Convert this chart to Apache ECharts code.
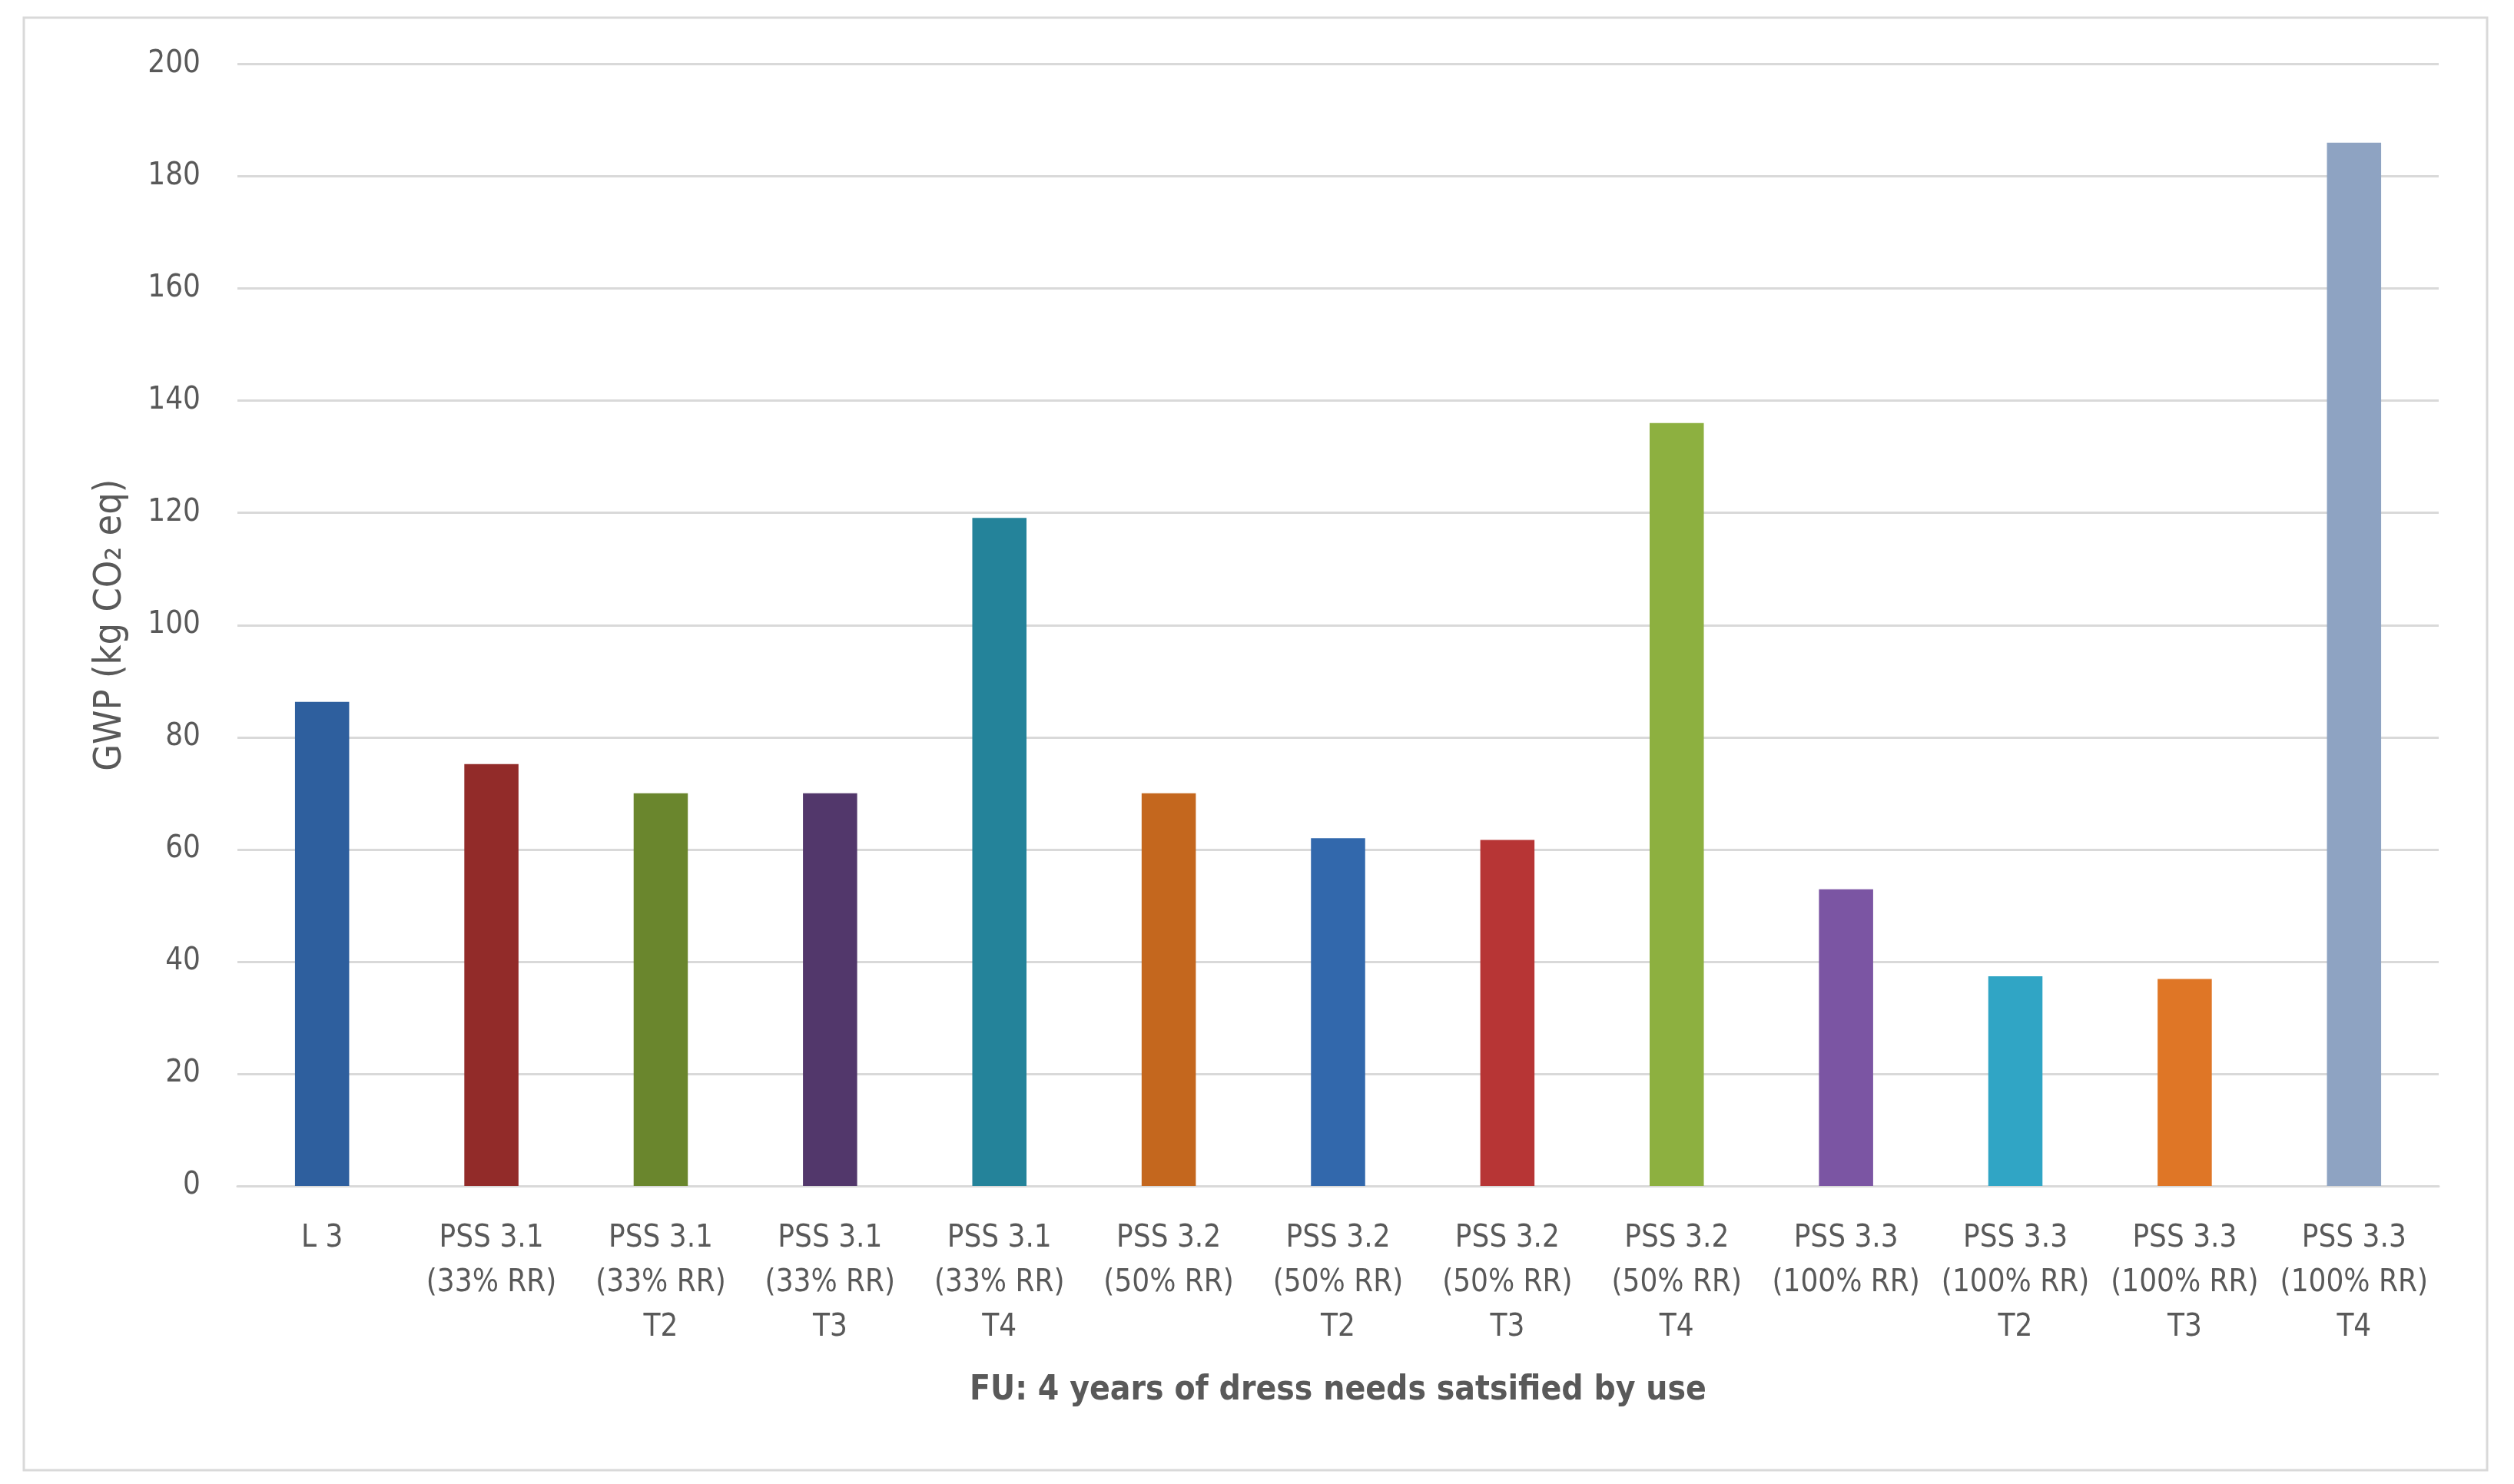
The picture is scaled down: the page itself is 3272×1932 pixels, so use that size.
<!DOCTYPE html>
<html>
<head>
<meta charset="utf-8">
<script src="https://cdn.jsdelivr.net/npm/echarts@6/dist/echarts.min.js"></script>
<style>
html,body{margin:0;padding:0;background:#fff;}
#chart{width:3272px;height:1932px;}
</style>
</head>
<body>
<div id="chart"></div>
<script>
const categories = [
  'L 3',
  'PSS 3.1\n(33% RR)',
  'PSS 3.1\n(33% RR)\nT2',
  'PSS 3.1\n(33% RR)\nT3',
  'PSS 3.1\n(33% RR)\nT4',
  'PSS 3.2\n(50% RR)',
  'PSS 3.2\n(50% RR)\nT2',
  'PSS 3.2\n(50% RR)\nT3',
  'PSS 3.2\n(50% RR)\nT4',
  'PSS 3.3\n(100% RR)',
  'PSS 3.3\n(100% RR)\nT2',
  'PSS 3.3\n(100% RR)\nT3',
  'PSS 3.3\n(100% RR)\nT4'
];
const gwpValues = [86.3, 75.2, 70.0, 70.0, 119.1, 70.0, 62.0, 61.7, 136.0, 52.9, 37.4, 36.9, 186.0];
const barColors = ['#2E5F9E','#922B29','#6A862D','#52376B','#24839A','#C4671E','#3268AC','#B73535','#8DB040','#7B55A3','#30A5C5','#DF7626','#8EA3C2'];
const yTicks = { min: 0, max: 200, interval: 20 };
const xTitle = 'FU: 4 years of dress needs satsified by use';
const yTitle = 'GWP (kg CO\u2082 eq)';

const FONT = "'Liberation Sans Narrow', 'DejaVu Sans Condensed', sans-serif";
const TXT = '#595959';

const chart = echarts.init(document.getElementById('chart'), null, {renderer: 'canvas'});
chart.setOption({
  backgroundColor: '#ffffff',
  animation: false,
  textStyle: { fontFamily: FONT },
  graphic: [{
    type: 'rect',
    shape: { x: 31, y: 23, width: 3206, height: 1891 },
    style: { fill: 'none', stroke: '#D9D9D9', lineWidth: 3 },
    silent: true
  }],
  grid: { left: 309, right: 98, top: 83.5, bottom: 388, containLabel: false },
  xAxis: {
    type: 'category',
    data: categories,
    axisLine: { show: true, lineStyle: { color: '#D9D9D9', width: 3 } },
    axisTick: { show: false },
    axisLabel: {
      interval: 0, color: TXT, fontSize: 40, lineHeight: 58, margin: 40, fontFamily: FONT
    },
    name: xTitle,
    nameLocation: 'middle',
    nameGap: 245,
    nameTextStyle: { color: TXT, fontSize: 44, fontWeight: 'bold', fontFamily: FONT }
  },
  yAxis: {
    type: 'value',
    min: yTicks.min, max: yTicks.max, interval: yTicks.interval,
    axisLine: { show: false },
    axisTick: { show: false },
    splitLine: { lineStyle: { color: '#D9D9D9', width: 3 } },
    axisLabel: { color: TXT, fontSize: 40, margin: 48, fontFamily: FONT },
    name: yTitle,
    nameLocation: 'middle',
    nameGap: 140,
    nameTextStyle: { color: TXT, fontSize: 50, fontFamily: FONT }
  },
  series: [{
    type: 'bar',
    data: gwpValues.map((v, i) => ({ value: v, itemStyle: { color: barColors[i] } })),
    barWidth: '32%'
  }]
});
</script>
</body>
</html>
